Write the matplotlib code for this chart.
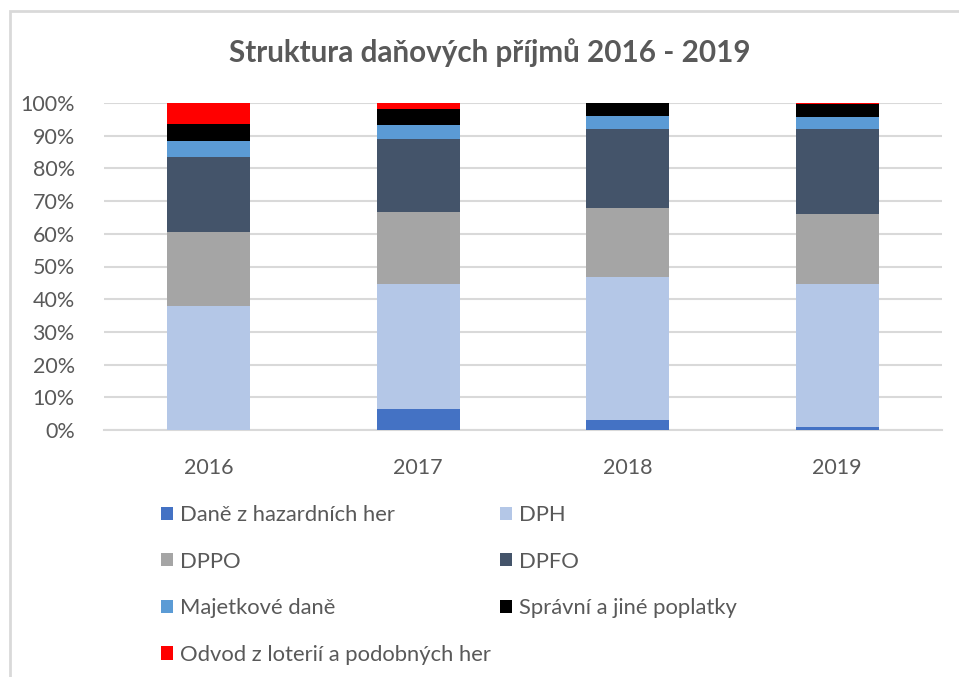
import numpy as np
import matplotlib
matplotlib.use("Agg")
import matplotlib.pyplot as plt
from matplotlib.patches import Rectangle, Patch
from matplotlib.ticker import PercentFormatter

plt.rcParams['font.family'] = ['Lato', 'DejaVu Sans']

years = ['2016', '2017', '2018', '2019']
# shares of total tax revenue (%)
hazard = [0.0, 6.3, 3.1, 0.8]
dph = [37.8, 38.4, 43.8, 43.7]
dppo = [22.8, 22.1, 21.0, 21.6]
dpfo = [22.8, 22.1, 24.0, 25.8]
majetkove = [5.1, 4.3, 4.1, 3.8]
spravni = [5.1, 5.1, 4.1, 4.0]
odvod = [6.3, 1.6, 0.0, 0.4]

labels = ['Daně z hazardních her', 'DPH', 'DPPO', 'DPFO',
          'Majetkové daně', 'Správní a jiné poplatky',
          'Odvod z loterií a podobných her']
colors = ['#4472C4', '#B4C7E7', '#A5A5A5', '#44546A',
          '#5B9BD5', '#000000', '#FF0000']
series = [hazard, dph, dppo, dpfo, majetkove, spravni, odvod]

txt = '#595959'
fig = plt.figure(figsize=(9.59, 6.77), dpi=100)

# chart frame
fig.patches.append(Rectangle((10/959, -0.05), 1.0, 1.05 - 11/677,
                             transform=fig.transFigure, fill=False,
                             edgecolor='#D9D9D9', linewidth=2))

ax = fig.add_axes([104/959, 247/677, 838/959, 327/677])
x = np.arange(len(years))
bottom = np.zeros(len(years))
handles = []
for vals, lab, col in zip(series, labels, colors):
    v = np.array(vals) / 100
    ax.bar(x, v, width=0.397, bottom=bottom, color=col, zorder=3)
    bottom += v
    handles.append(Patch(facecolor=col, label=lab))

ax.set_xlim(-0.5, 3.5)
ax.set_ylim(0, 1)
ax.set_yticks(np.arange(0, 1.01, 0.1))
ax.yaxis.set_major_formatter(PercentFormatter(1.0, decimals=0))
ax.set_xticks(x)
ax.set_xticklabels(years)
ax.grid(axis='y', color='#D9D9D9', linewidth=1.5, zorder=0)
for s in ['top', 'right', 'left']:
    ax.spines[s].set_visible(False)
ax.spines['bottom'].set_color('#D9D9D9')
ax.spines['bottom'].set_linewidth(1.5)
ax.tick_params(length=0, labelsize=15.5, labelcolor=txt)
ax.tick_params(axis='y', pad=21)
ax.tick_params(axis='x', pad=20)

fig.text(0.511, 0.922, 'Struktura daňových příjmů 2016 - 2019',
         ha='center', va='center', fontsize=21.3, fontweight='bold', color=txt)

# two legend columns, read row by row
leg_kw = dict(loc='upper left', frameon=False, fontsize=15.8, handlelength=0.55,
              handleheight=0.55, handletextpad=0.3, labelspacing=1.21,
              borderpad=0, borderaxespad=0, labelcolor=txt)
left = [0, 2, 4, 6]
right = [1, 3, 5]
fig.legend([handles[i] for i in left], [labels[i] for i in left],
           bbox_to_anchor=(161/959, 1 - 505/677), **leg_kw)
fig.legend([handles[i] for i in right], [labels[i] for i in right],
           bbox_to_anchor=(500/959, 1 - 505/677), **leg_kw)

fig.savefig('out.png', dpi=100)
